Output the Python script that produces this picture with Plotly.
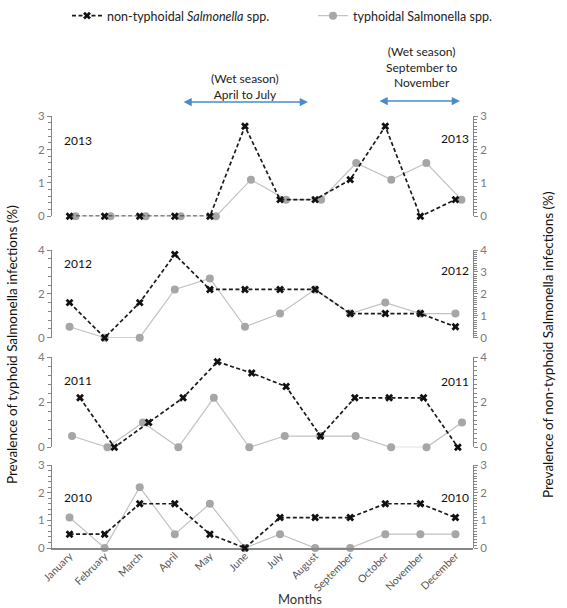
import plotly.graph_objects as go

months = ["January", "February", "March", "April", "May", "June", "July",
          "August", "September", "October", "November", "December"]
years = ["2013", "2012", "2011", "2010"]

# non-typhoidal Salmonella (right axis), typhoidal (left axis), %
nt_2013 = [0, 0, 0, 0, 0, 2.7, 0.5, 0.5, 1.1, 2.7, 0, 0.5]
ty_2013 = [0, 0, 0, 0, 0, 1.1, 0.5, 0.5, 1.6, 1.1, 1.6, 0.5]
nt_2012 = [1.6, 0, 1.6, 3.8, 2.2, 2.2, 2.2, 2.2, 1.1, 1.1, 1.1, 0.5]
ty_2012 = [0.5, 0, 0, 2.2, 2.7, 0.5, 1.1, 2.2, 1.1, 1.6, 1.1, 1.1]
nt_2011 = [2.2, 0, 1.1, 2.2, 3.8, 3.3, 2.7, 0.5, 2.2, 2.2, 2.2, 0]
ty_2011 = [0.5, 0, 1.1, 0, 2.2, 0, 0.5, 0.5, 0.5, 0, 0, 1.1]
nt_2010 = [0.5, 0.5, 1.6, 1.6, 0.5, 0, 1.1, 1.1, 1.1, 1.6, 1.6, 1.1]
ty_2010 = [1.1, 0, 2.2, 0.5, 1.6, 0, 0.5, 0, 0, 0.5, 0.5, 0.5]

nt_series = [nt_2013, nt_2012, nt_2011, nt_2010]
ty_series = [ty_2013, ty_2012, ty_2011, ty_2010]

left_max = [3, 4, 4, 3]
left_dtick = [1, 2, 2, 1]
right_max = [3, 4, 4, 3]
right_dtick = [1, 1, 2, 1]

# layout (style) settings
W, H = 567, 608
ML, MR, MT, MB = 52, 94, 100, 60
plot_h = H - MT - MB
pw = W - ML - MR
panel_px = [(116.3, 216.3), (250, 337.7), (357.3, 447.3), (465, 548)]
nt_range = [(-0.5, 11.5), (-0.5, 11.5), (-0.815, 11.44), (-0.5, 11.5)]
ty_range = [(-0.67, 11.33), (-0.5, 11.5), (-0.564, 11.31), (-0.5, 11.5)]
yr_left_px = [141, 263, 380, 497]
yr_right_px = [138, 270, 381, 497]

FONT = "Lato"
AX = "#868686"
TICKC = "#7a7a7a"


def py(p):
    return (H - MB - p) / plot_h


def px(p):
    return (p - ML) / pw


fig = go.Figure()
legend_common = dict(orientation="h", xref="container", yref="container",
                     xanchor="left", yanchor="middle",
                     font=dict(family=FONT, size=12.5, color="#222222"),
                     itemwidth=30, bgcolor="rgba(0,0,0,0)")
layout = dict(
    width=W, height=H,
    margin=dict(l=ML, r=MR, t=MT, b=MB, autoexpand=False),
    paper_bgcolor="white", plot_bgcolor="rgba(0,0,0,0)",
    font=dict(family=FONT, size=11, color="#333333"),
    showlegend=True,
    legend=dict(x=67 / W, y=1 - 16 / H, **legend_common),
    legend2=dict(x=313 / W, y=1 - 16 / H, **legend_common),
)

annotations = []
# typhoid traces first (left axes, subplots x1y1..x4y4)
for i in range(4):
    k = i + 1
    fig.add_trace(go.Scatter(
        x=months, y=ty_series[i], xaxis=f"x{k}", yaxis=f"y{k}",
        mode="lines+markers", name="typhoidal Salmonella spp.",
        line=dict(color="#c2c2c2", width=1.2),
        marker=dict(symbol="circle", size=8, color="#a6a6a6"),
        cliponaxis=False, showlegend=(i == 3), legend="legend2"))
# non-typhoid traces (right axes, subplots x5y5..x8y8)
for i in range(4):
    k = i + 5
    fig.add_trace(go.Scatter(
        x=months, y=nt_series[i], xaxis=f"x{k}", yaxis=f"y{k}",
        mode="lines+markers", name="non-typhoidal <i>Salmonella</i> spp.",
        line=dict(color="#1a1a1a", width=1.7, dash="4px,2.5px"),
        marker=dict(symbol="x", size=7, color="#111111"),
        cliponaxis=False, showlegend=(i == 3), legend="legend"))

for i in range(4):
    k = i + 1
    last = (i == 3)
    top_px, bot_px = panel_px[i]
    dom = [py(bot_px), py(top_px)]

    layout[f"xaxis{k}"] = dict(
        domain=[0, 1], anchor=f"y{k}", type="category", categoryarray=months,
        range=list(ty_range[i]), showgrid=False, zeroline=False,
        showline=last, linecolor=AX, linewidth=1.5,
        showticklabels=last, tickangle=-45, ticks="", ticklabelstandoff=-4,
        tickfont=dict(family=FONT, size=10.5, color="#555555"))
    layout[f"xaxis{k+4}"] = dict(
        domain=[0, 1], anchor=f"y{k+4}", type="category", categoryarray=months,
        range=list(nt_range[i]), visible=False)
    layout[f"yaxis{k}"] = dict(
        domain=dom, anchor=f"x{k}", side="left", range=[0, left_max[i]],
        dtick=left_dtick[i], showgrid=False, zeroline=False,
        showline=True, linecolor=AX, linewidth=1,
        ticks="outside", ticklen=4, tickcolor=AX,
        minor=dict(dtick=left_dtick[i] / 5, ticks="outside", ticklen=3, tickcolor=AX),
        tickfont=dict(family=FONT, size=11.5, color=TICKC))
    layout[f"yaxis{k+4}"] = dict(
        domain=dom, anchor=f"x{k+4}", side="right", range=[0, right_max[i]],
        dtick=right_dtick[i], showgrid=False, zeroline=False,
        showline=True, linecolor=AX, linewidth=1,
        ticks="outside", ticklen=4, tickcolor=AX,
        minor=dict(dtick=0.1 if right_dtick[i] == 1 else 0.2, ticks="outside",
                   ticklen=3, tickcolor=AX),
        tickfont=dict(family=FONT, size=11.5, color=TICKC))

    annotations.append(dict(text=years[i], xref="paper", yref="paper",
                            x=px(62), y=py(yr_left_px[i]),
                            xanchor="left", yanchor="middle", showarrow=False,
                            font=dict(family=FONT, size=12, color="#111111")))
    annotations.append(dict(text=years[i], xref="paper", yref="paper",
                            x=px(471), y=py(yr_right_px[i]),
                            xanchor="right", yanchor="middle", showarrow=False,
                            font=dict(family=FONT, size=12, color="#111111")))

# axis titles
annotations.append(dict(text="Prevalence of typhoid Salmonella infections (%)",
                        xref="paper", yref="paper", x=px(12), y=py(345),
                        textangle=-90, showarrow=False, xanchor="center", yanchor="middle",
                        font=dict(family=FONT, size=13.5, color="#111111")))
annotations.append(dict(text="Prevalence of non-typhoid Salmonella infections (%)",
                        xref="paper", yref="paper", x=px(548), y=py(345),
                        textangle=-90, showarrow=False, xanchor="center", yanchor="middle",
                        font=dict(family=FONT, size=13.5, color="#111111")))
annotations.append(dict(text="Months", xref="paper", yref="paper",
                        x=px(300), y=py(599), showarrow=False,
                        xanchor="center", yanchor="middle",
                        font=dict(family=FONT, size=13, color="#333333")))

# wet season arrows and labels
ARROW = "#4a8cc8"
for (x0, x1, yp) in [(182, 308, 102), (378, 460, 101)]:
    annotations.append(dict(text="", xref="paper", yref="paper",
                            x=px(x1), y=py(yp), axref="pixel", ayref="pixel",
                            ax=-(x1 - x0), ay=0, showarrow=True,
                            arrowhead=2, arrowside="end+start", arrowsize=1.1,
                            arrowwidth=1.5, arrowcolor=ARROW))
annotations.append(dict(text="(Wet season)<br>April to July", xref="paper", yref="paper",
                        x=px(245), y=py(86), showarrow=False,
                        xanchor="center", yanchor="middle",
                        font=dict(family=FONT, size=12, color="#222222")))
annotations.append(dict(text="(Wet season)<br>September to<br>November", xref="paper",
                        yref="paper", x=px(421), y=py(67), showarrow=False,
                        xanchor="center", yanchor="middle",
                        font=dict(family=FONT, size=12, color="#222222")))

layout["annotations"] = annotations
fig.update_layout(**layout)
fig.write_html("out.html", config={"displayModeBar": False},
               post_script="document.body.style.margin='0';")
